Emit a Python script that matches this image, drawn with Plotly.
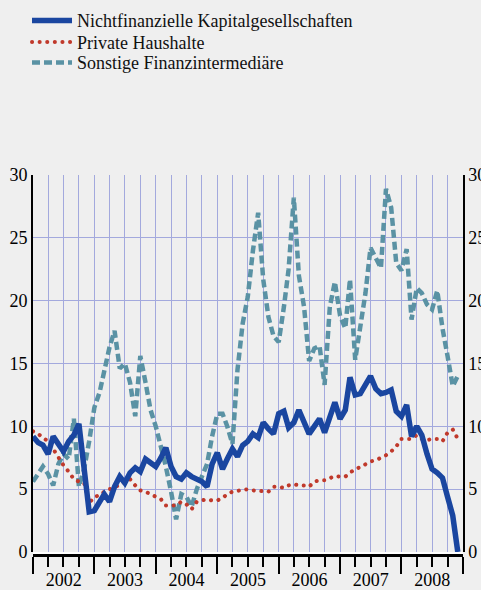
import plotly.graph_objects as go
import pandas as pd

months = pd.date_range("2002-01-01", "2008-12-01", freq="MS")

nichtfinanzielle = [
    9.2, 8.7, 8.5, 7.8, 9.2, 8.6, 8.0, 8.8, 9.3, 10.2, 7.0, 3.2,
    3.3, 3.9, 4.6, 4.0, 5.2, 6.0, 5.5, 6.3, 6.7, 6.4, 7.4, 7.1,
    6.8, 7.5, 8.3, 6.8, 6.0, 5.8, 6.3, 6.0, 5.8, 5.6, 5.2, 7.0,
    7.9, 6.6, 7.4, 8.2, 7.6, 8.5, 8.8, 9.4, 9.1, 10.3, 9.8, 9.4,
    11.0, 11.2, 9.9, 10.3, 11.3, 10.2, 9.4, 10.0, 10.6, 9.5, 10.7, 11.9,
    10.6, 11.3, 13.9, 12.5, 12.6, 13.3, 14.0, 13.0, 12.6, 12.7, 12.9, 11.2,
    10.8, 11.7, 9.2, 10.0, 9.3, 7.8, 6.6, 6.3, 5.9, 4.4, 2.9, 0.0,
]

private_haushalte = [
    9.6, 9.4, 9.1, 8.8, 8.2, 7.5, 6.9, 6.4, 5.8, 5.6, 5.5, 3.9,
    4.4, 4.5, 4.8, 5.0, 5.1, 5.4, 5.6, 5.8, 5.3, 4.9, 4.8, 4.6,
    4.4, 4.2, 3.7, 3.7, 3.7, 4.0, 3.8, 3.4, 4.0, 4.1, 4.2, 4.1,
    4.1, 4.3, 4.6, 4.8, 4.85, 4.9, 5.0, 4.9, 4.85, 4.8, 4.8, 5.2,
    5.2, 5.1, 5.3, 5.4, 5.3, 5.3, 5.2, 5.6, 5.7, 5.7, 5.9, 6.05,
    6.0, 6.0, 6.3, 6.6, 6.75, 7.0, 7.2, 7.3, 7.5, 7.7, 8.0, 8.4,
    9.0, 9.0, 9.0, 9.3, 9.0, 8.9, 9.0, 9.0, 8.8, 9.5, 9.75, 9.0,
]

sonstige = [
    5.6, 6.2, 6.8, 6.2, 5.3, 7.0, 7.8, 7.4, 10.6, 5.2, 6.6, 8.8,
    11.5, 12.7, 14.5, 16.3, 17.6, 14.6, 15.0, 13.5, 10.8, 15.6, 13.5, 11.3,
    10.0, 8.5, 6.8, 4.8, 2.6, 4.6, 4.4, 3.6, 5.0, 6.0, 7.0, 9.2,
    11.0, 11.0, 10.0, 8.6, 14.5, 18.2, 20.3, 24.0, 27.0, 21.7, 18.7, 17.2,
    16.7, 19.5, 22.5, 28.2, 22.0, 19.5, 15.2, 16.2, 16.4, 13.3, 19.5, 21.5,
    18.8, 17.8, 21.7, 15.3, 18.0, 20.6, 24.2, 23.4, 22.6, 28.9, 27.4, 23.0,
    22.4, 24.1, 18.5, 21.0, 20.6, 19.7, 19.3, 20.8, 17.8, 15.6, 13.2, 14.0,
]

names = ["Nichtfinanzielle Kapitalgesellschaften", "Private Haushalte",
         "Sonstige Finanzintermediäre"]

BG = "#efefef"
GRID = "#a3a9dd"
RED = "#c0392b"
FONT = "Liberation Serif, Times New Roman, DejaVu Serif, serif"

W, H = 481, 590
ML, MR, MT, MB = 33, 18, 0, 35
PH = H - MT - MB            # paper height in px
PW = W - ML - MR
PLOT_TOP = 175              # px from top where y=30 sits
AX_GAP = 3                  # gap between plot bottom and x axis line


def py(px):
    """pixel row -> paper fraction"""
    return 1 - (px - MT) / PH


fig = go.Figure()
fig.add_trace(go.Scatter(x=months, y=sonstige, name=names[2], mode="lines",
                         line=dict(color="#5a92a4", width=4.5, dash="8px,4px"),
                         legend="legend3"))
fig.add_trace(go.Scatter(x=months, y=private_haushalte, name=names[1], mode="lines",
                         line=dict(color=RED, width=4, dash="0.1px,7.5px"),
                         legend="legend2"))
fig.add_trace(go.Scatter(x=months, y=nichtfinanzielle, name=names[0], mode="lines",
                         line=dict(color="#1a46a0", width=5.5),
                         legend="legend"))
fig.add_trace(go.Scatter(x=months, y=nichtfinanzielle, yaxis="y2", mode="lines",
                         line=dict(width=0), opacity=0, showlegend=False,
                         hoverinfo="skip"))

leg_x = (27 - ML) / PW
legend_common = dict(x=leg_x, xanchor="left", yanchor="middle",
                     font=dict(family=FONT, size=18, color="#111"),
                     bgcolor="rgba(0,0,0,0)", itemwidth=40)

fig.update_layout(
    width=W, height=H,
    margin=dict(l=ML, r=MR, t=MT, b=MB),
    paper_bgcolor=BG, plot_bgcolor=BG,
    font=dict(family=FONT, size=18, color="black"),
    showlegend=True,
    legend=dict(y=py(20.7), **legend_common),
    legend2=dict(y=py(42.3), **legend_common),
    legend3=dict(y=py(62.7), **legend_common),
    xaxis=dict(type="date", range=["2002-01-01", "2009-01-01"],
               dtick="M12", tick0="2002-01-01", ticklabelmode="period",
               tickformat="%Y", ticks="outside", ticklen=17, tickwidth=2,
               tickcolor="black", showline=True, linecolor="black", linewidth=2.5,
               showgrid=True, gridcolor=GRID, gridwidth=1,
               minor=dict(dtick="M3", ticks="outside", ticklen=10, tickwidth=2,
                          tickcolor="black", showgrid=True, gridcolor=GRID,
                          gridwidth=1),
               ticklabelstandoff=-9,
               anchor="free", position=0, zeroline=False, automargin=False,
               tickfont=dict(family=FONT, size=18)),
    yaxis=dict(range=[0, 30], dtick=5,
               domain=[AX_GAP / PH, py(PLOT_TOP)],
               showgrid=True, gridcolor=GRID, gridwidth=1, zeroline=False,
               showline=True, linecolor="black", linewidth=2, ticks="",
               automargin=False, tickfont=dict(family=FONT, size=18)),
    yaxis2=dict(range=[0, 30], dtick=5, overlaying="y", side="right",
                showgrid=False, zeroline=False, showline=True,
                linecolor="black", linewidth=1.5, ticks="", automargin=False,
                tickfont=dict(family=FONT, size=18)),
    shapes=[
        dict(type="rect", xref="paper", yref="paper", x0=0, x1=1,
             y0=0.8 / PH, y1=AX_GAP / PH, fillcolor="white",
             line=dict(width=0), layer="below"),
    ],
)

post = """
document.body.style.margin='0';
document.body.style.overflow='hidden';
document.querySelectorAll('path').forEach(function(p){
  var s = p.style.stroke || '';
  if (s.replace(/\\s/g,'') === 'rgb(192,57,43)') {
    p.style.strokeLinecap = 'round';
  }
});
"""

fig.write_html("out.html", config={"displayModeBar": False}, post_script=post)
